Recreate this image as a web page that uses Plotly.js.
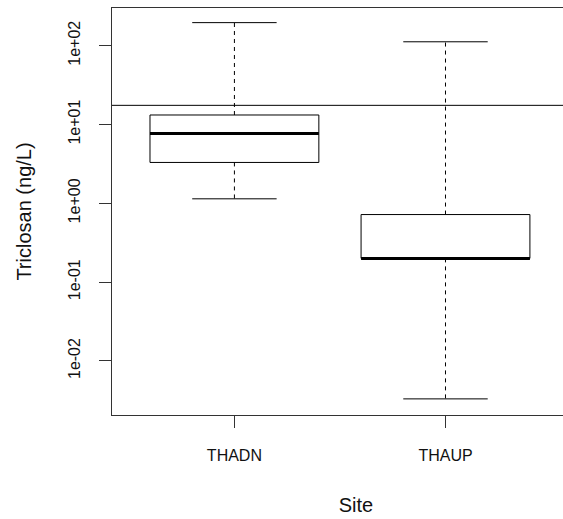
<!DOCTYPE html>
<html>
<head>
<meta charset="utf-8">
<script src="https://cdn.plot.ly/plotly-3.0.1.min.js"></script>
<style>html,body{margin:0;padding:0;background:#fff;overflow:hidden;width:563px;height:519px;}#wrap{width:563px;height:519px;overflow:hidden;}#chart{width:600px;height:519px;}</style>
</head>
<body>
<div id="wrap"><div id="chart"></div></div>
<script>
// Data (Triclosan, ng/L, log scale)
const categories = ["THADN", "THAUP"];
const whiskerLow = [1.14, 0.0033];
const q1 = [3.3, 0.2];
const median = [7.7, 0.2];
const q3 = [13.2, 0.72];
const whiskerHigh = [196, 112];
const referenceLine = [17.5];
const yTickVals = [0.01, 0.1, 1, 10, 100];
const yTickText = ["1e-02", "1e-01", "1e+00", "1e+01", "1e+02"];

const halfBox = 0.4, halfCap = 0.2;
const traces = [];
categories.forEach((c, i) => {
  const x = i + 1;
  traces.push({
    type: "scatter", mode: "lines", hoverinfo: "skip", showlegend: false,
    x: [x - halfBox, x + halfBox, x + halfBox, x - halfBox, x - halfBox],
    y: [q1[i], q1[i], q3[i], q3[i], q1[i]],
    line: {color: "#000", width: 1}
  });
  traces.push({
    type: "scatter", mode: "lines", hoverinfo: "skip", showlegend: false,
    x: [x, x], y: [q3[i], whiskerHigh[i]],
    line: {color: "#000", width: 1, dash: "4px,4px"}
  });
  traces.push({
    type: "scatter", mode: "lines", hoverinfo: "skip", showlegend: false,
    x: [x, x], y: [q1[i], whiskerLow[i]],
    line: {color: "#000", width: 1, dash: "4px,4px"}
  });
  traces.push({
    type: "scatter", mode: "lines", hoverinfo: "skip", showlegend: false,
    x: [x - halfCap, x + halfCap], y: [whiskerHigh[i], whiskerHigh[i]],
    line: {color: "#000", width: 1}
  });
  traces.push({
    type: "scatter", mode: "lines", hoverinfo: "skip", showlegend: false,
    x: [x - halfCap, x + halfCap], y: [whiskerLow[i], whiskerLow[i]],
    line: {color: "#000", width: 1}
  });
  traces.push({
    type: "scatter", mode: "lines", hoverinfo: "skip", showlegend: false,
    x: [x - halfBox, x + halfBox], y: [median[i], median[i]],
    line: {color: "#000", width: 3}
  });
});

const layout = {
  width: 600, height: 519,
  margin: {l: 112, r: 0, t: 8, b: 104},
  paper_bgcolor: "#fff", plot_bgcolor: "#fff",
  font: {family: "Liberation Sans, Arial, sans-serif", color: "#000"},
  showlegend: false,
  xaxis: {
    range: [0.42, 2.732],
    tickvals: categories.map((c, i) => i + 1),
    ticktext: categories,
    ticks: "outside", ticklen: 12, tickcolor: "#333", tickwidth: 1,
    ticklabelstandoff: 14,
    showline: true, linecolor: "#333", linewidth: 1, mirror: true,
    showgrid: false, zeroline: false,
    tickfont: {size: 16, color: "#111"},
    title: {text: "Site", font: {size: 20, color: "#111"}, standoff: 34},
    fixedrange: true
  },
  yaxis: {
    type: "log",
    range: [-2.686, 2.478],
    tickvals: yTickVals,
    ticktext: yTickText,
    tickangle: -90,
    ticks: "outside", ticklen: 12, tickcolor: "#333", tickwidth: 1,
    ticklabelstandoff: 13,
    showline: true, linecolor: "#333", linewidth: 1, mirror: false,
    showgrid: false, zeroline: false,
    tickfont: {size: 16, color: "#111"},
    title: {text: "Triclosan (ng/L)", font: {size: 20, color: "#111"}, standoff: 28},
    fixedrange: true
  },
  shapes: referenceLine.map(v => ({
    type: "line", xref: "paper", x0: 0, x1: 1, yref: "y", y0: v, y1: v,
    line: {color: "#000", width: 1}
  }))
};

Plotly.newPlot("chart", traces, layout, {staticPlot: true, displayModeBar: false});
</script>
</body>
</html>
